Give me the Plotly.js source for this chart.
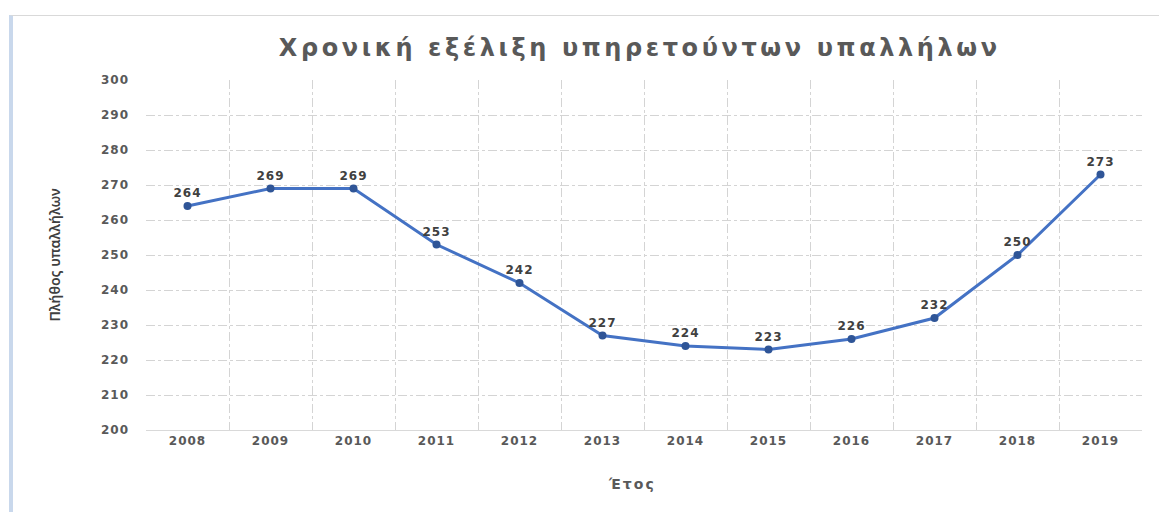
<!DOCTYPE html>
<html>
<head>
<meta charset="utf-8">
<script src="https://cdn.plot.ly/plotly-3.0.1.min.js"></script>
<style>
html,body{margin:0;padding:0;background:#fff;}
#frame{position:absolute;left:9px;top:15px;width:1150px;height:497px;border-left:4px solid #c9d8ec;border-top:1px solid #d9d9d9;box-sizing:border-box;}
#chart{position:absolute;left:0;top:0;width:1159px;height:512px;}
#chart .xtick text, #chart .ytick text { letter-spacing: 1px; }
#chart .textpoint text { letter-spacing: 1px; }
#chart .gtitle { letter-spacing: 3.6px; }
#chart .annotation-text { letter-spacing: 2px; }
</style>
</head>
<body>
<div id="frame"></div>
<div id="chart"></div>
<script>
const years = ['2008','2009','2010','2011','2012','2013','2014','2015','2016','2017','2018','2019'];
const employees = [264, 269, 269, 253, 242, 227, 224, 223, 226, 232, 250, 273];
const yTicks = [200, 210, 220, 230, 240, 250, 260, 270, 280, 290, 300];

const FONT = 'DejaVu Sans, sans-serif';

const trace = {
  x: years,
  y: employees,
  type: 'scatter',
  mode: 'lines+markers+text',
  text: employees.map(String),
  textposition: 'top center',
  textfont: {family: FONT, size: 12, color: '#404040', weight: 'bold'},
  line: {color: '#4472C4', width: 3},
  marker: {color: '#2F5597', size: 8},
  cliponaxis: false,
  hoverinfo: 'x+y'
};

const layout = {
  width: 1159, height: 512,
  margin: {l: 146, r: 17, t: 80, b: 82},
  paper_bgcolor: 'rgba(0,0,0,0)',
  plot_bgcolor: 'rgba(0,0,0,0)',
  showlegend: false,
  title: {
    text: 'Χρονική εξέλιξη υπηρετούντων υπαλλήλων',
    font: {family: FONT, size: 24, color: '#595959', weight: 'bold'},
    x: 0.552, xanchor: 'center', y: 0.908, yanchor: 'middle'
  },
  annotations: [{
    text: 'Έτος', xref: 'paper', yref: 'paper', x: 0.488, y: -0.155,
    xanchor: 'center', yanchor: 'middle', showarrow: false,
    font: {family: FONT, size: 14, color: '#595959', weight: 'bold'}
  }],
  xaxis: {
    type: 'category',
    range: [-0.5, 11.5],
    tickson: 'boundaries',
    showgrid: true,
    gridcolor: '#d4d4d4',
    griddash: 'dashdot',
    gridwidth: 1,
    showline: true,
    linecolor: '#d9d9d9',
    linewidth: 1,
    ticks: '',
    tickfont: {family: FONT, size: 12, color: '#595959', weight: 'bold'},
    zeroline: false
  },
  yaxis: {
    range: [200, 300],
    tickvals: yTicks,
    ticktext: yTicks.map(String),
    showgrid: true,
    gridcolor: '#d4d4d4',
    griddash: 'dashdot',
    gridwidth: 1,
    showline: false,
    zeroline: false,
    ticks: '',
    ticklabelstandoff: 16,
    tickfont: {family: FONT, size: 12, color: '#595959', weight: 'bold'},
    title: {text: 'Πλήθος υπαλλήλων', font: {family: 'Noto Sans, sans-serif', size: 14, color: '#404040', weight: 600}, standoff: 40}
  }
};

Plotly.newPlot('chart', [trace], layout, {displayModeBar: false, staticPlot: true});
</script>
</body>
</html>
